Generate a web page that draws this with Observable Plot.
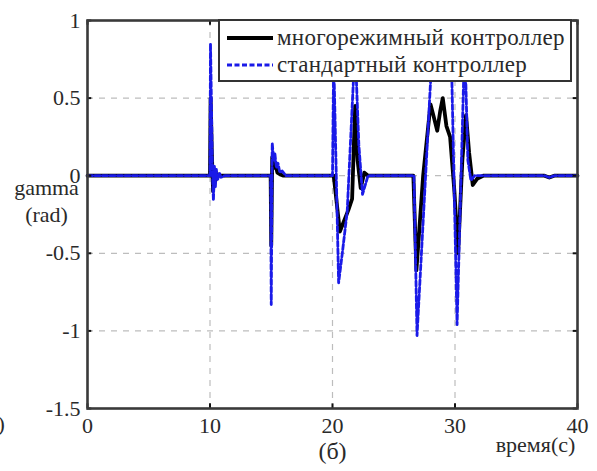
<!DOCTYPE html>
<html><head><meta charset="utf-8">
<script src="https://cdn.jsdelivr.net/npm/d3@7"></script>
<script src="https://cdn.jsdelivr.net/npm/@observablehq/plot@0.6"></script>
<style>
body{margin:0;background:#fff;}
#wrap{position:relative;width:597px;height:471px;overflow:hidden;}
#legend{position:absolute;left:218px;top:19px;width:350px;height:59px;border:2px solid #333;background:#fff;}
#legend svg{position:absolute;left:0;top:0;}
</style></head><body><div id="wrap"></div>
<script>
// ---- data ----
const seriesNames = ["многорежимный контроллер", "стандартный контроллер"];
const timeMulti = [0, 10.0, 10.05, 10.15, 10.25, 10.35, 10.45, 10.6, 10.8,
  14.95, 15.0, 15.08, 15.2, 15.35, 15.5, 15.7, 16.0,
  20.1, 20.6, 20.9, 21.3, 21.6, 21.85, 22.05, 22.3, 22.6, 22.9,
  26.6, 26.85, 27.4, 28.0, 28.2, 28.55, 28.8, 29.0, 29.3, 29.6, 29.95, 30.25, 30.6, 30.9, 31.15, 31.45, 31.8, 32.3,
  37.3, 37.7, 38.1, 40];
const gammaMulti = [0, 0, 0.5, 0.15, -0.1, 0.04, -0.03, 0.01, 0,
  0, -0.45, 0.12, 0.05, 0.07, 0.02, 0.01, 0,
  0, -0.36, -0.3, -0.22, -0.15, 0.45, 0.1, -0.08, 0.02, 0,
  0, -0.61, 0, 0.46, 0.4, 0.29, 0.42, 0.5, 0.32, 0.25, -0.1, -0.5, 0.1, 0.39, 0.15, -0.06, -0.02, 0,
  0, -0.012, 0, 0];
const timeStd = [0, 10.0, 10.04, 10.15, 10.2, 10.28, 10.36, 10.44, 10.52, 10.62, 10.75, 10.9, 11.2,
  14.95, 15.0, 15.08, 15.2, 15.3, 15.42, 15.55, 15.7, 15.9, 16.2,
  20.0, 20.1, 20.5, 20.8, 21.2, 21.7, 21.9, 22.15, 22.45, 22.9,
  26.65, 26.9, 27.6, 28.0, 28.4, 29.0, 29.5, 29.75, 30.17, 30.7, 30.85, 31.05, 31.3, 31.6,
  37.3, 37.7, 38.1, 40];
const gammaStd = [0, 0, 0.85, 0.3, 0.02, -0.16, 0.06, -0.07, 0.04, -0.03, 0.02, -0.01, 0,
  0, -0.83, 0.21, 0.1, 0.14, 0.05, 0.08, 0.02, 0.03, 0,
  0, 0.75, -0.69, -0.5, -0.23, 0.6, 0.72, 0.2, -0.12, 0,
  0, -1.03, 0, 0.6, 0.85, 0.9, 0.8, 0.6, -0.96, 0.6, 0.7, 0.1, -0.03, 0,
  0, -0.012, 0, 0];
const xTicks = [0, 10, 20, 30, 40];
const yTicks = [-1.5, -1, -0.5, 0, 0.5, 1];
const xGrid = [10, 20, 30];
const yGrid = [-1, -0.5, 0, 0.5];
const xLabel = "время(с)";
const yLabel = "gamma\n(rad)";
const panelLabel = "(б)";
const strayLabel = ")";

// ---- build ----
const multi = timeMulti.map((t, i) => ({t, g: gammaMulti[i]}));
const std = timeStd.map((t, i) => ({t, g: gammaStd[i]}));
const FONT = "'Liberation Serif', 'DejaVu Serif', serif";
const TXT = "#2a2a2a";
const BLUE = "#1a1ae8";

const chart = Plot.plot({
  width: 597, height: 471,
  marginLeft: 87, marginTop: 20, marginRight: 20, marginBottom: 63,
  style: {fontFamily: FONT, fontSize: "22px", background: "#fff", color: TXT, overflow: "visible"},
  x: {domain: [0, 40], axis: null, label: null},
  y: {domain: [-1.5, 1], axis: null, label: null},
  marks: [
    Plot.ruleX(xGrid, {x: d => d, stroke: "#bdbdbd", strokeWidth: 1.2, strokeDasharray: "6,6"}),
    Plot.ruleY(yGrid, {y: d => d, stroke: "#bdbdbd", strokeWidth: 1.2, strokeDasharray: "6,6"}),
    Plot.line(multi, {x: "t", y: "g", stroke: "#000", strokeWidth: 3.8, strokeLinejoin: "round"}),
    Plot.line(std, {x: "t", y: "g", stroke: BLUE, strokeWidth: 2.8, strokeDasharray: "5,2.5"}),
    // inward ticks
    Plot.ruleX(xTicks, {x: d => d, y1: -1.5, y2: -1.47, stroke: "#111", strokeWidth: 2}),
    Plot.ruleX(xTicks, {x: d => d, y1: 1, y2: 0.97, stroke: "#111", strokeWidth: 2}),
    Plot.ruleY(yTicks, {y: d => d, x1: 0, x2: 0.35, stroke: "#111", strokeWidth: 2}),
    Plot.ruleY(yTicks, {y: d => d, x1: 40, x2: 39.65, stroke: "#111", strokeWidth: 2}),
    Plot.frame({stroke: "#3a3a3a", strokeWidth: 2.6}),
    Plot.axisX(xTicks, {anchor: "bottom", label: null, tickSize: 0, tickPadding: 9, fontSize: 22, fontFamily: FONT, fill: TXT, tickFormat: d => String(d)}),
    Plot.axisY(yTicks, {anchor: "left", label: null, tickSize: 0, tickPadding: 7, fontSize: 22, fontFamily: FONT, fill: TXT, tickFormat: d => String(d)}),
    Plot.text([yLabel], {frameAnchor: "left", dx: -41, dy: -15, fontSize: 22, fontFamily: FONT, fill: TXT, lineHeight: 1.25, textAnchor: "middle", lineAnchor: "middle"}),
    Plot.text([xLabel], {frameAnchor: "bottom-right", dx: -42, dy: 36, fontSize: 22, fontFamily: FONT, fill: TXT, textAnchor: "middle", lineAnchor: "middle"}),
    Plot.text([panelLabel], {frameAnchor: "bottom", dy: 43, fontSize: 24, fontFamily: FONT, fill: TXT, textAnchor: "middle", lineAnchor: "middle"}),
    Plot.text([strayLabel], {frameAnchor: "bottom-left", dx: -90, dy: 15, fontSize: 22, fontFamily: FONT, fill: TXT, textAnchor: "start", lineAnchor: "middle"})
  ]
});
const wrap = document.getElementById("wrap");
wrap.appendChild(chart);

// legend box (white, on top of the lines)
const lg = document.createElement("div");
lg.id = "legend";
const ns = "http://www.w3.org/2000/svg";
const svg = document.createElementNS(ns, "svg");
svg.setAttribute("width", 350); svg.setAttribute("height", 59);
const styles = [{stroke: "#000", w: 3.8, dash: null}, {stroke: BLUE, w: 2.8, dash: "5,2.5"}];
seriesNames.forEach((name, i) => {
  const y = 17 + i * 27;
  const ln = document.createElementNS(ns, "line");
  ln.setAttribute("x1", 7); ln.setAttribute("x2", 53);
  ln.setAttribute("y1", y); ln.setAttribute("y2", y);
  ln.setAttribute("stroke", styles[i].stroke);
  ln.setAttribute("stroke-width", styles[i].w);
  if (styles[i].dash) ln.setAttribute("stroke-dasharray", styles[i].dash);
  svg.appendChild(ln);
  const tx = document.createElementNS(ns, "text");
  tx.setAttribute("x", 57); tx.setAttribute("y", y + 7);
  tx.setAttribute("font-family", FONT); tx.setAttribute("font-size", 23);
  tx.setAttribute("letter-spacing", "0.3");
  tx.setAttribute("fill", TXT);
  tx.textContent = name;
  svg.appendChild(tx);
});
lg.appendChild(svg);
wrap.appendChild(lg);
</script></body></html>
